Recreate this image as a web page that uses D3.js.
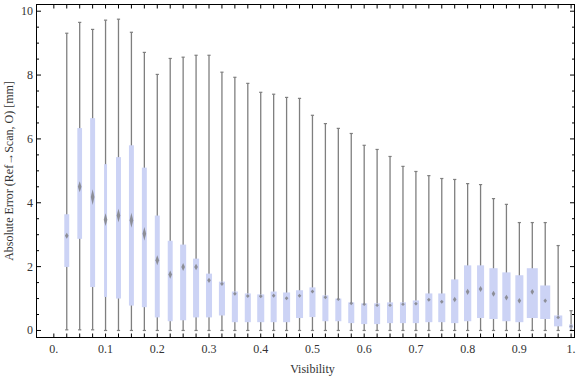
<!DOCTYPE html>
<meta charset="utf-8">
<head>
<title>Box whisker</title>
<script src="https://d3js.org/d3.v7.min.js"></script>
<style>
  body { margin: 0; background: white; }
  text { font-family: "Liberation Serif", "Times New Roman", serif; font-size: 12px; fill: #333; }
</style>
</head>
<body>
<div id="chart"></div>
<script>

    // visibility bins (box centres)
    let visibility = [0.025, 0.05, 0.075, 0.1, 0.125, 0.15, 0.175, 0.2, 0.225, 0.25,
                      0.275, 0.3, 0.325, 0.35, 0.375, 0.4, 0.425, 0.45, 0.475, 0.5,
                      0.525, 0.55, 0.575, 0.6, 0.625, 0.65, 0.675, 0.7, 0.725, 0.75,
                      0.775, 0.8, 0.825, 0.85, 0.875, 0.9, 0.925, 0.95, 0.975, 1.0];

    let maxs = [9.31, 9.65, 9.43, 9.72, 9.75, 9.34, 8.71, 8.02, 8.52, 8.56,
                8.62, 8.62, 8.09, 7.93, 7.74, 7.46, 7.40, 7.30, 7.27, 6.74,
                6.48, 6.33, 6.17, 5.80, 5.67, 5.45, 5.14, 4.98, 4.85, 4.76,
                4.73, 4.60, 4.57, 4.13, 3.95, 3.38, 3.38, 3.38, 2.66, 0.62];

    let q3s = [3.64, 6.34, 6.65, 5.21, 5.43, 5.80, 5.10, 3.60, 2.81, 2.69,
               2.25, 1.78, 1.53, 1.22, 1.16, 1.13, 1.22, 1.19, 1.26, 1.35,
               1.10, 1.00, 0.88, 0.85, 0.85, 0.88, 0.88, 0.94, 1.16, 1.16,
               1.60, 2.04, 2.04, 1.95, 1.82, 1.73, 1.95, 1.41, 0.47, 0.19];

    let medians = [2.97, 4.50, 4.18, 3.47, 3.60, 3.45, 3.03, 2.20, 1.75, 1.99,
                   1.99, 1.57, 1.46, 1.15, 1.08, 1.07, 1.09, 1.01, 1.09, 1.22,
                   1.04, 0.98, 0.85, 0.82, 0.79, 0.79, 0.82, 0.84, 0.96, 0.90,
                   0.97, 1.21, 1.30, 1.15, 1.03, 0.93, 1.21, 0.93, 0.41, 0.13];

    let q1s = [1.99, 2.87, 1.36, 1.05, 1.00, 0.78, 0.73, 0.41, 0.29, 0.32,
               0.41, 0.41, 0.47, 0.26, 0.26, 0.26, 0.26, 0.26, 0.39, 0.42,
               0.29, 0.29, 0.23, 0.20, 0.20, 0.23, 0.23, 0.23, 0.26, 0.26,
               0.23, 0.29, 0.39, 0.36, 0.29, 0.26, 0.39, 0.36, 0.13, 0.07];

    let mins = [0.02, 0.02, 0.02, 0, 0, 0, 0, 0, 0, 0,
                0, 0, 0, 0, 0, 0, 0, 0, 0, 0,
                0, 0, 0, 0, 0, 0, 0, 0, 0, 0,
                0, 0, 0, 0, 0, 0, 0, 0, 0, 0];

    // relative box widths (sample weight per bin)
    let weights = [0.45, 0.43, 0.45, 0.27, 0.45, 0.45, 0.45, 0.45, 0.45, 0.55,
                   0.55, 0.55, 0.55, 0.55, 0.55, 0.64, 0.55, 0.64, 0.64, 0.55,
                   0.55, 0.55, 0.55, 0.55, 0.55, 0.55, 0.55, 0.57, 0.64, 0.64,
                   0.66, 0.66, 0.64, 0.75, 0.75, 0.73, 1.0, 0.91, 0.75, 0.36];

    let xTickLabels = ["0.", "0.1", "0.2", "0.3", "0.4", "0.5", "0.6", "0.7", "0.8", "0.9", "1."];
    let xTickValues = [0, 0.1, 0.2, 0.3, 0.4, 0.5, 0.6, 0.7, 0.8, 0.9, 1.0];
    let yTickValues = [0, 2, 4, 6, 8, 10];

    let w = 576;
    let h = 377;
    let pLeft = 36.5, pRight = 574.5, pTop = 4.5, pBottom = 337.5;

    let boxes = visibility.map((v, i) => ({
        v: v, min: mins[i], q1: q1s[i], med: medians[i], q3: q3s[i], max: maxs[i], wt: weights[i]
    }));

    let svg = d3.select("#chart")
                .append("svg")
                .attr("width", w)
                .attr("height", h);

    let x = d3.scaleLinear().domain([-0.0335, 1.0066]).range([pLeft, pRight]);
    let y = d3.scaleLinear().domain([-0.22, 10.21]).range([pBottom, pTop]);
    let bw = d3.scaleLinear().domain([0, 1]).range([0, 11]);

    let plot = svg.append("g");

    // whiskers
    plot.selectAll(".whisker")
        .data(boxes)
        .enter()
        .append("line")
        .attr("x1", (d) => x(d.v))
        .attr("x2", (d) => x(d.v))
        .attr("y1", (d) => y(d.min))
        .attr("y2", (d) => y(d.max))
        .style("stroke", "#7f7f7f")
        .style("stroke-width", 1.3);

    // caps
    ["min", "max"].forEach((k) => {
        plot.selectAll(".cap-" + k)
            .data(boxes)
            .enter()
            .append("line")
            .attr("x1", (d) => x(d.v) - 1.6)
            .attr("x2", (d) => x(d.v) + 1.6)
            .attr("y1", (d) => y(d[k]))
            .attr("y2", (d) => y(d[k]))
            .style("stroke", "#7f7f7f")
            .style("stroke-width", 1.2);
    });

    // boxes
    plot.selectAll(".box")
        .data(boxes)
        .enter()
        .append("rect")
        .attr("x", (d) => x(d.v) - bw(d.wt) / 2)
        .attr("width", (d) => bw(d.wt))
        .attr("y", (d) => y(d.q3))
        .attr("height", (d) => y(d.q1) - y(d.q3))
        .style("fill", "#ccd3f5");

    // median markers (diamond)
    plot.selectAll(".median")
        .data(boxes)
        .enter()
        .append("path")
        .attr("d", (d) => {
            let cx = x(d.v), cy = y(d.med);
            let hh = Math.max(1.8, 0.042 * (y(d.q1) - y(d.q3)) + 0.8);
            let hw = 1.8;
            return "M" + cx + "," + (cy - hh) + "L" + (cx + hw) + "," + cy +
                   "L" + cx + "," + (cy + hh) + "L" + (cx - hw) + "," + cy + "Z";
        })
        .style("fill", "#777")
        .style("opacity", 0.75);

    // frame
    svg.append("rect")
       .attr("x", pLeft)
       .attr("y", pTop)
       .attr("width", pRight - pLeft)
       .attr("height", pBottom - pTop)
       .style("fill", "none")
       .style("stroke", "black")
       .style("stroke-width", 1);

    // x ticks: one at zero and at every bin, top and bottom
    let xTicks = [0].concat(visibility);
    svg.selectAll(".xtick-b")
       .data(xTicks)
       .enter()
       .append("line")
       .attr("x1", (d) => x(d)).attr("x2", (d) => x(d))
       .attr("y1", pBottom).attr("y2", pBottom - 4)
       .style("stroke", "black");
    svg.selectAll(".xtick-t")
       .data(xTicks)
       .enter()
       .append("line")
       .attr("x1", (d) => x(d)).attr("x2", (d) => x(d))
       .attr("y1", pTop).attr("y2", pTop + 4)
       .style("stroke", "black");

    svg.selectAll(".xlabel")
       .data(xTickValues)
       .enter()
       .append("text")
       .attr("x", (d) => x(d))
       .attr("y", pBottom + 15)
       .attr("text-anchor", "middle")
       .text((d, i) => xTickLabels[i]);

    // y ticks: major every 2, minor every 0.5, both sides
    let yMinor = d3.range(0, 10.01, 0.5);
    svg.selectAll(".ytick")
       .data(yMinor)
       .enter()
       .append("g")
       .each(function(d) {
           let len = (d % 2 === 0) ? 4.5 : 2.5;
           let g = d3.select(this);
           g.append("line")
            .attr("x1", pLeft).attr("x2", pLeft + len)
            .attr("y1", y(d)).attr("y2", y(d))
            .style("stroke", "black");
           g.append("line")
            .attr("x1", pRight).attr("x2", pRight - len)
            .attr("y1", y(d)).attr("y2", y(d))
            .style("stroke", "black");
       });

    svg.selectAll(".ylabel")
       .data(yTickValues)
       .enter()
       .append("text")
       .attr("x", pLeft - 3.5)
       .attr("y", (d) => y(d) + 4)
       .attr("text-anchor", "end")
       .text((d) => d);

    // axis titles
    svg.append("text")
       .attr("x", x(0.5))
       .attr("y", 373)
       .attr("text-anchor", "middle")
       .text("Visibility");

    svg.append("text")
       .attr("transform", "translate(13," + ((pTop + pBottom) / 2) + ") rotate(-90)")
       .attr("text-anchor", "middle")
       .text("Absolute Error (Ref\u2192Scan, O) [mm]");

</script>
</body>
